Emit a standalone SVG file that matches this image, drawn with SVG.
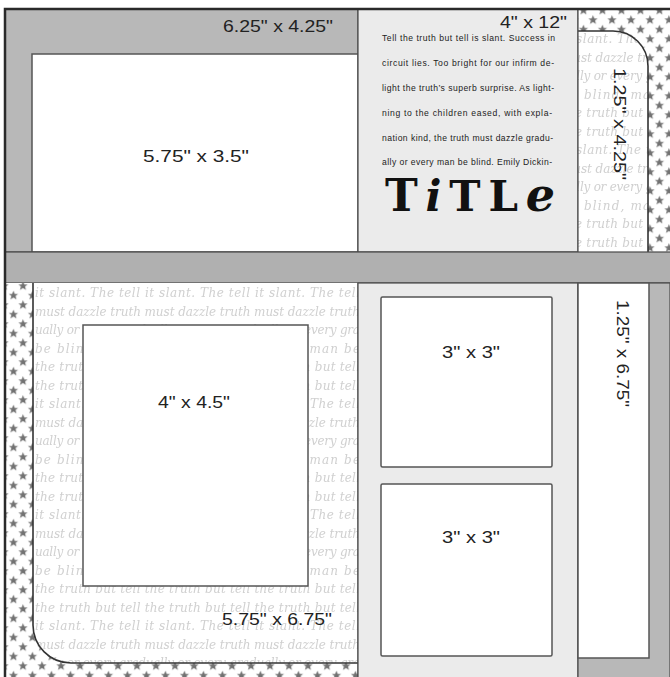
<svg xmlns="http://www.w3.org/2000/svg" width="670" height="677" viewBox="0 0 670 677">
<style>
.lbl{font-family:"Liberation Sans",Arial,sans-serif;font-size:17px;fill:#222}
.body{font-family:"Liberation Sans",Arial,sans-serif;font-size:8.6px;fill:#222}
.scr{font-family:"DejaVu Serif",serif;font-style:italic;font-size:12px;fill:#d0d0d0}
.edge{stroke:#4a4a4a;stroke-width:1.2}
.photo{fill:#fff;stroke:#555;stroke-width:1.5}
.gray{fill:#b8b8b8}
.light{fill:#ebebeb}
.dark{fill:none;stroke:#333;stroke-width:1.6}
</style>
<defs>
<path id="star" d="M0,-4.8 L1.35,-1.6 4.6,-1.5 2.1,0.6 3,3.9 0,2.1 -3,3.9 -2.1,0.6 -4.6,-1.5 -1.35,-1.6Z" fill="#727272"/>
<pattern id="stars" patternUnits="userSpaceOnUse" x="-0.75" y="-3.75" width="19" height="19">
<rect width="19" height="19" fill="#fff"/>
<use href="#star" x="4.75" y="4.75"/>
<use href="#star" x="14.25" y="14.25"/>
</pattern>
<g id="lines">
<rect width="330" height="111" fill="#fff"/>
<text class="scr" x="2" y="14" textLength="325">it slant. The tell it slant. The tell it slant. The tell</text>
<text class="scr" x="2" y="32.5" textLength="325">must dazzle truth must dazzle truth must dazzle truth</text>
<text class="scr" x="2" y="51" textLength="325">ually or every gradually or every gradually or every gra</text>
<text class="scr" x="2" y="69.5" textLength="325">be blind, man be blind, man be blind, man be</text>
<text class="scr" x="2" y="88" textLength="325">the truth but tell the truth but tell the truth but tell</text>
<text class="scr" x="2" y="106.5" textLength="325">the truth but tell the truth but tell the truth but tell</text>
</g>
<pattern id="script1" patternUnits="userSpaceOnUse" x="33" y="283" width="330" height="111"><use href="#lines"/></pattern>
<pattern id="script2" patternUnits="userSpaceOnUse" x="560" y="29" width="330" height="111"><use href="#lines"/></pattern>
</defs>
<rect width="670" height="677" fill="#fff"/>

<g id="top-left-mat">
<rect class="gray edge" x="5" y="9" width="353" height="243"/>
<text class="lbl" x="223" y="32" textLength="110" lengthAdjust="spacingAndGlyphs">6.25" x 4.25"</text>
</g>
<g id="top-left-photo">
<rect class="photo" x="32" y="54" width="326" height="198"/>
<text class="lbl" x="143" y="162" textLength="106" lengthAdjust="spacingAndGlyphs">5.75" x 3.5"</text>
</g>

<g id="title-column">
<rect class="light edge" x="358" y="9" width="220" height="243"/>
<text class="lbl" x="500" y="28" textLength="67" lengthAdjust="spacingAndGlyphs">4" x 12"</text>
<text class="body" x="382" y="41" textLength="173">Tell the truth but tell is slant. Success in</text>
<text class="body" x="382" y="66" textLength="172">circuit lies. Too bright for our infirm de-</text>
<text class="body" x="382" y="91" textLength="172">light the truth’s superb surprise. As light-</text>
<text class="body" x="382" y="116" textLength="170">ning to the children eased, with expla-</text>
<text class="body" x="382" y="141" textLength="171">nation kind, the truth must dazzle gradu-</text>
<text class="body" x="382" y="165" textLength="170">ally or every man be blind. Emily Dickin-</text>
<text x="385" y="211" font-family="DejaVu Serif,serif" font-weight="bold" fill="#111" textLength="170"><tspan font-size="44">T</tspan><tspan font-size="42" font-style="italic">i</tspan><tspan font-size="42">TL</tspan><tspan font-size="46" font-style="italic">e</tspan></text>
</g>

<g id="top-right-strip">
<rect x="578" y="9" width="92" height="243" fill="url(#stars)"/>
<path d="M578,252 V31 H613 A35,35 0 0 1 648,66 V252" fill="url(#script2)"/>
<path class="dark" d="M578,31 H613 A35,35 0 0 1 648,66 V252"/>
<line class="edge" x1="578" y1="9" x2="578" y2="252"/>
<text class="lbl" transform="translate(614,68) rotate(90)" textLength="112" lengthAdjust="spacingAndGlyphs">1.25" x 4.25"</text>
</g>

<g id="middle-band">
<rect x="5" y="252" width="670" height="31" fill="#b0b0b0" class="edge"/>
</g>

<g id="bottom-left-mat">
<rect x="5" y="283" width="353" height="400" fill="url(#stars)"/>
<path d="M33,283 V625 A38,38 0 0 0 71,663 H358 V283Z" fill="url(#script1)"/>
<path class="dark" d="M33,283 V625 A38,38 0 0 0 71,663 H358"/>
<line class="edge" x1="358" y1="283" x2="358" y2="677"/>
<text class="lbl" x="222" y="625" textLength="110" lengthAdjust="spacingAndGlyphs">5.75" x 6.75"</text>
</g>
<g id="bottom-left-photo">
<rect class="photo" x="83" y="325" width="225" height="261"/>
<text class="lbl" x="158" y="408" textLength="72" lengthAdjust="spacingAndGlyphs">4" x 4.5"</text>
</g>

<g id="photo-column">
<rect class="light edge" x="358" y="283" width="220" height="400"/>
</g>
<g id="photo-3x3-top">
<rect class="photo" x="381" y="297" width="171" height="170" rx="1.5"/>
<text class="lbl" x="442" y="358" textLength="58" lengthAdjust="spacingAndGlyphs">3" x 3"</text>
</g>
<g id="photo-3x3-bottom">
<rect class="photo" x="381" y="484" width="171" height="172" rx="1.5"/>
<text class="lbl" x="442" y="543" textLength="58" lengthAdjust="spacingAndGlyphs">3" x 3"</text>
</g>

<g id="bottom-right-mat">
<rect class="gray edge" x="578" y="283" width="92" height="400"/>
</g>
<g id="bottom-right-strip">
<rect class="photo" x="578" y="283" width="71" height="375"/>
<text class="lbl" transform="translate(617,300) rotate(90)" textLength="107" lengthAdjust="spacingAndGlyphs">1.25" x 6.75"</text>
</g>

<g id="frame">
<path d="M5,677 V9 H670" fill="none" stroke="#2a2a2a" stroke-width="2.5"/>
</g>
</svg>
